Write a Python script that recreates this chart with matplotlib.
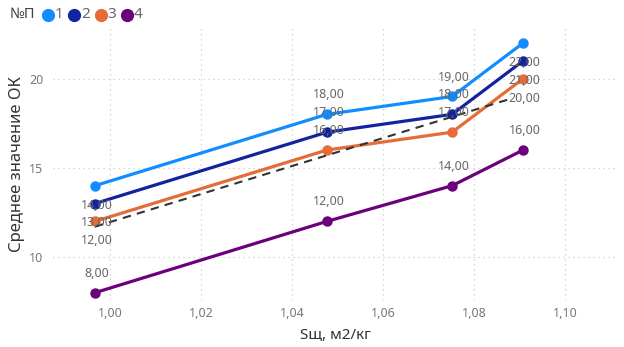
import matplotlib
matplotlib.use("Agg")
import matplotlib.pyplot as plt
from matplotlib.lines import Line2D

plt.rcParams['font.family'] = ['Noto Sans', 'DejaVu Sans']

# data
x_vals = [0.9967, 1.0477, 1.0752, 1.0908]
series_names = ['1', '2', '3', '4']
ok_1 = [14, 18, 19, 22]
ok_2 = [13, 17, 18, 21]
ok_3 = [12, 16, 17, 20]
ok_4 = [8, 12, 14, 16]
trend_x = [0.9967, 1.0884]
trend_y = [11.7, 18.9]
x_ticks = [1.00, 1.02, 1.04, 1.06, 1.08, 1.10]
y_ticks = [10, 15, 20]

colors = ['#118DFF', '#12239E', '#E66C37', '#6B007B']
# where Power BI put the data labels (+1 above, -1 below)
label_side = [[-1, 1, 1, -1], [-1, 1, 1, -1], [-1, 1, 1, -1], [1, 1, 1, 1]]

W, H = 624, 347
fig = plt.figure(figsize=(W / 100, H / 100), dpi=100)
# plot area in pixels: left 53, right 617, top 28, bottom 300
ax = fig.add_axes([53 / W, 1 - 300 / H, (617 - 53) / W, (300 - 28) / H])

all_series = [ok_1, ok_2, ok_3, ok_4]
for vals, col in zip(all_series, colors):
    ax.plot(x_vals, vals, color=col, lw=2.3, marker='o', ms=6.5, zorder=3)

ax.plot(trend_x, trend_y, color='#333333', lw=1.5, ls=(0, (4, 3)), zorder=4)

# data labels
for vals, sides in zip(all_series, label_side):
    for x, v, s in zip(x_vals, vals, sides):
        ax.annotate(f"{v:.2f}".replace('.', ','), (x, v), xytext=(1, 14 * s),
                    textcoords='offset points', ha='center', va='center',
                    fontsize=9, color='#666666', zorder=5)

ax.set_xlim(0.98747, 1.11143)
ax.set_ylim(7.59, 22.84)
ax.set_xticks(x_ticks)
ax.set_xticklabels([f"{t:.2f}".replace('.', ',') for t in x_ticks])
ax.set_yticks(y_ticks)
ax.tick_params(axis='y', length=0, labelsize=9, labelcolor='#777777', pad=7)
ax.tick_params(axis='x', length=0, labelsize=9, labelcolor='#777777', pad=5)
ax.grid(True, color='#cccccc', lw=0.9, ls=(0, (1, 3)))
for sp in ax.spines.values():
    sp.set_visible(False)

ax.set_xlabel('Sщ, м2/кг', fontsize=11, color='#333333')
ax.xaxis.set_label_coords(0.5, -0.103)
ax.set_ylabel('Среднее значение ОК', fontsize=12, color='#333333')
ax.yaxis.set_label_coords(-0.05, 0.5)

# legend
ly = 1 - 15 / H
fig.text(10 / W, ly, '№П', fontsize=10.5, fontweight='bold',
         color='#444444', va='center')
for i, (name, col) in enumerate(zip(series_names, colors)):
    cx = (48 + 26.3 * i) / W
    fig.add_artist(Line2D([cx], [ly], ls='none', marker='o', ms=8.5,
                          color=col, transform=fig.transFigure))
    fig.text(cx + 7 / W, ly, name, fontsize=11, color='#666666',
             va='center', ha='left')

fig.savefig('out.png', dpi=100)
